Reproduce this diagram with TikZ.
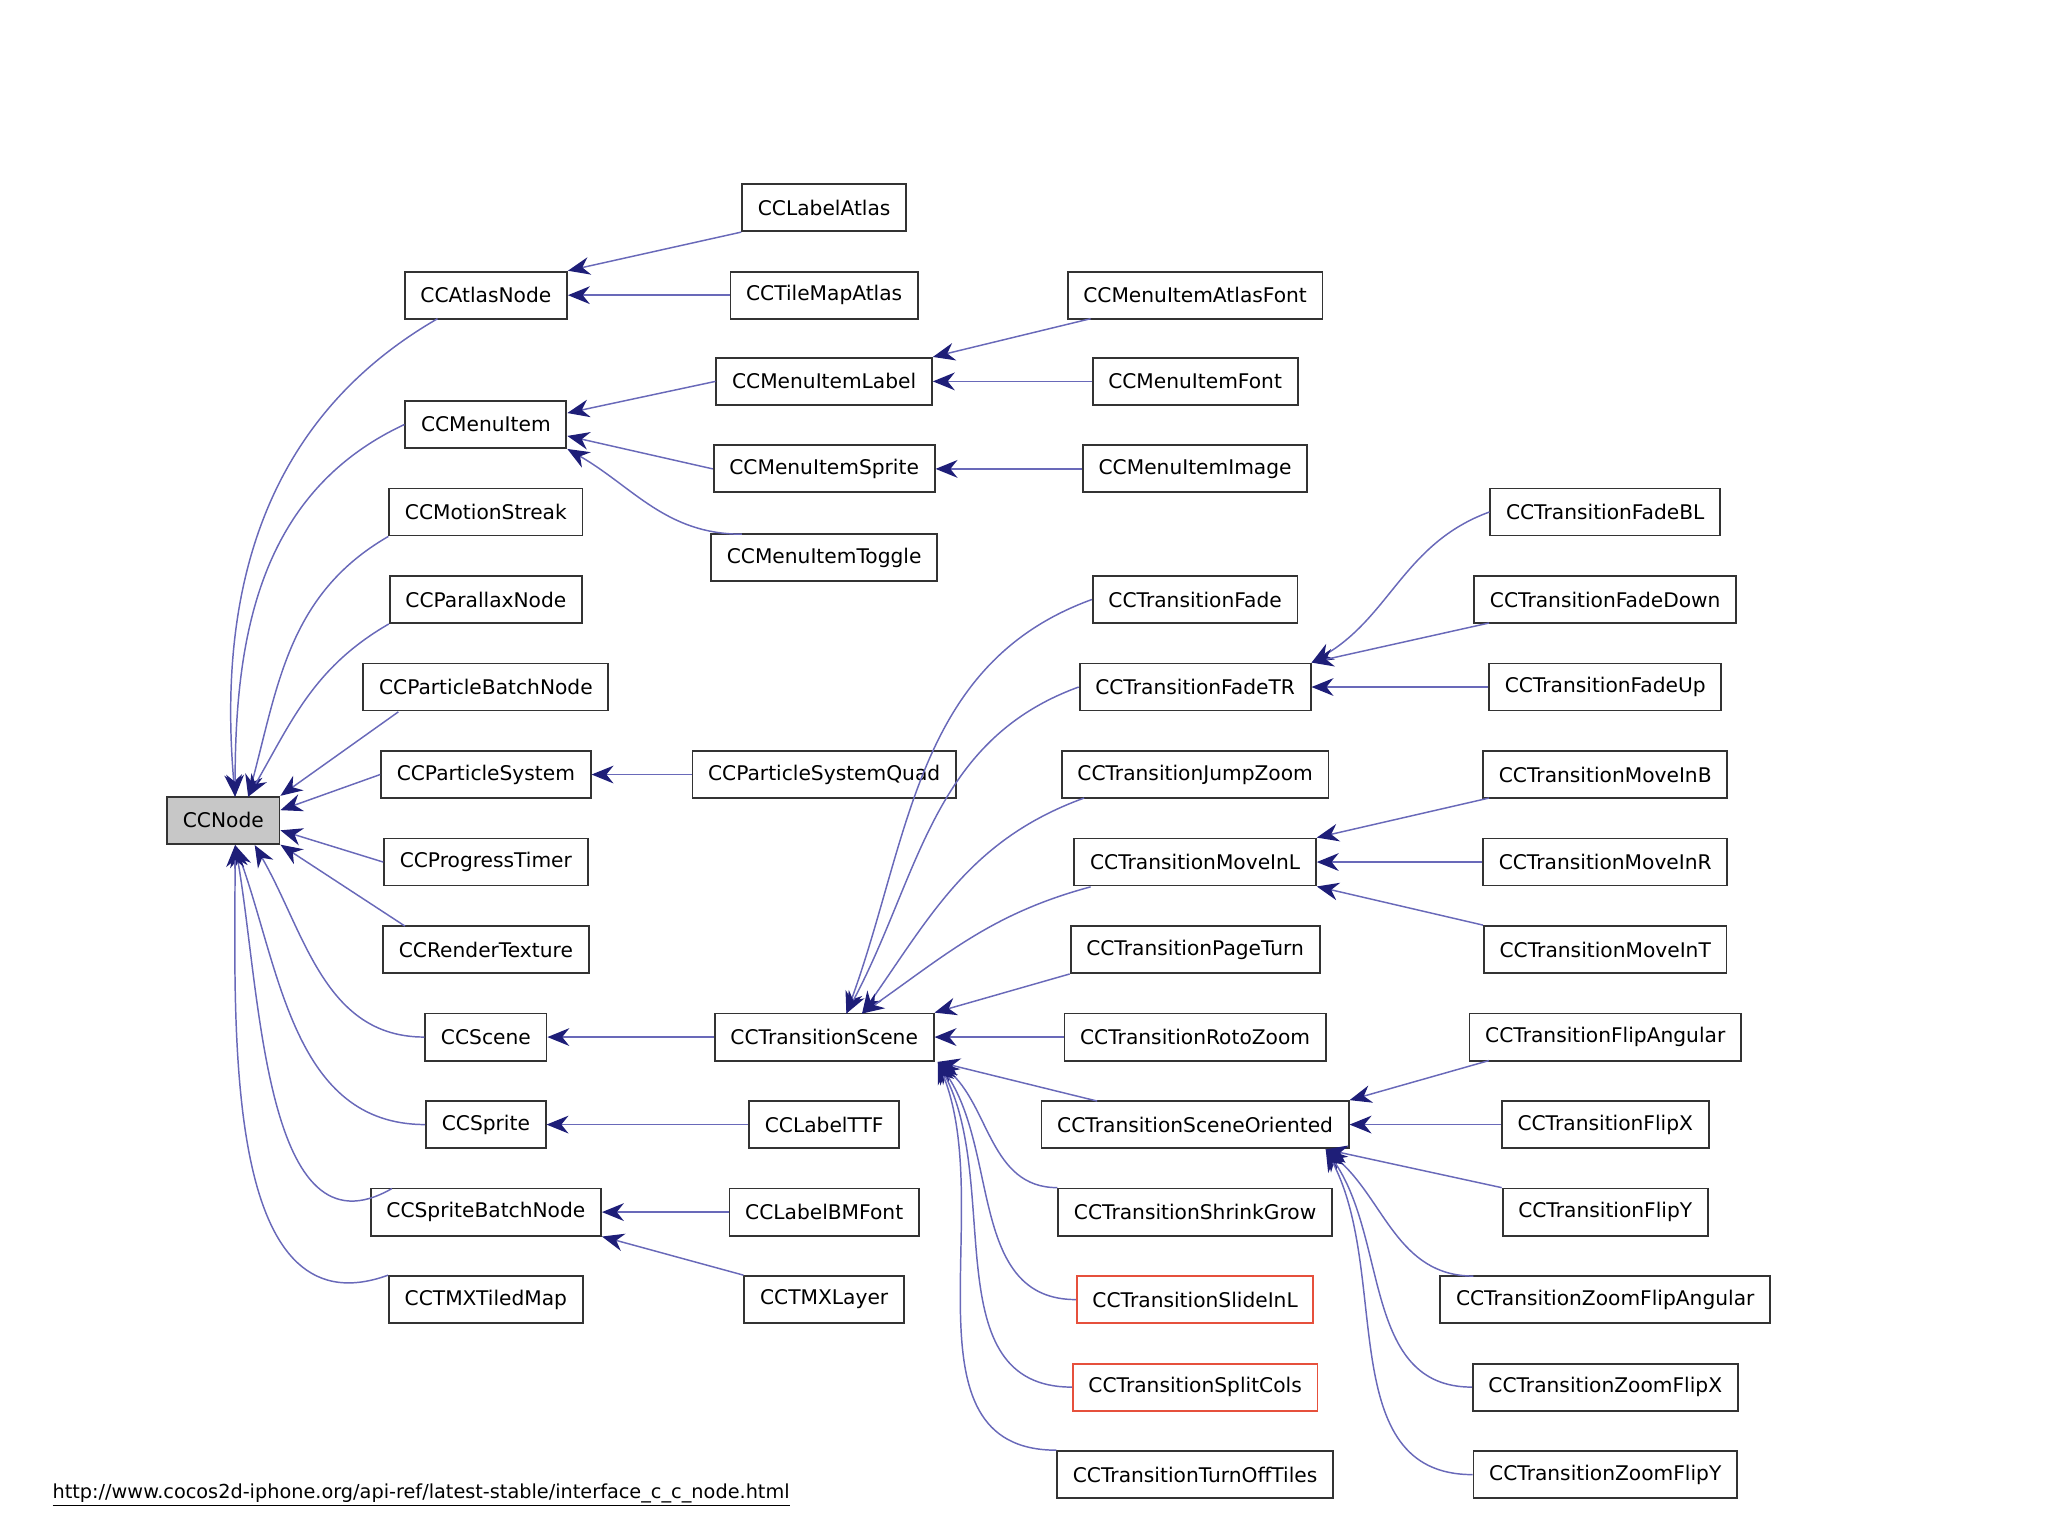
\documentclass[tikz,border=0pt]{standalone}
\usepackage{fontspec}
\setmainfont{DejaVu Sans}
\usetikzlibrary{arrows.meta}
\definecolor{ln}{RGB}{105,105,185}
\definecolor{hd}{RGB}{30,30,120}
\definecolor{rd}{RGB}{230,80,60}
\begin{document}
\begin{tikzpicture}[x=0.025cm,y=-0.025cm,
 b/.style={draw=black!80,line width=1pt,fill=white,minimum height=0.9cm,inner xsep=0.3cm,font=\fontsize{11}{13}\selectfont},
 r/.style={b,draw=rd},
 e/.style={draw=ln,line width=0.8pt,-{Stealth[length=0.42cm,width=0.34cm,color=hd,fill=hd]}}]
\useasboundingbox (0,0) rectangle (1568,1176);
\node[b,fill=black!22] (n) at (171,628) {CCNode};
\foreach \id/\y/\t in {atlas/226/CCAtlasNode,mi/325/CCMenuItem,ms/392/CCMotionStreak,pn/459/CCParallaxNode,pb/526/CCParticleBatchNode,ps/593/CCParticleSystem,pt/660/CCProgressTimer,rt/727/CCRenderTexture,sc/794/CCScene,sp/861/CCSprite,sb/928/CCSpriteBatchNode,tm/995/CCTMXTiledMap}
 \node[b] (\id) at (372,\y) {\t};
\foreach \id/\y/\t in {la/159/CCLabelAtlas,tma/226/CCTileMapAtlas,mil/292/CCMenuItemLabel,mis/359/CCMenuItemSprite,mit/427/CCMenuItemToggle,psq/593/CCParticleSystemQuad,ts/794/CCTransitionScene,ttf/861/CCLabelTTF,bmf/928/CCLabelBMFont,tml/995/CCTMXLayer}
 \node[b] (\id) at (631,\y) {\t};
\foreach \id/\y/\t in {maf/226/CCMenuItemAtlasFont,mif/292/CCMenuItemFont,mii/359/CCMenuItemImage,tf/459/CCTransitionFade,ftr/526/CCTransitionFadeTR,jz/593/CCTransitionJumpZoom,mvl/660/CCTransitionMoveInL,pg/727/CCTransitionPageTurn,rz/794/CCTransitionRotoZoom,so/861/CCTransitionSceneOriented,sg/928/CCTransitionShrinkGrow,tot/1129/CCTransitionTurnOffTiles}
 \node[b] (\id) at (915,\y) {\t};
\node[r] (sl) at (915,995) {CCTransitionSlideInL};
\node[r] (sc2) at (915,1062) {CCTransitionSplitCols};
\foreach \id/\y/\t in {fbl/392/CCTransitionFadeBL,fd/459/CCTransitionFadeDown,fu/526/CCTransitionFadeUp,mb/593/CCTransitionMoveInB,mr/660/CCTransitionMoveInR,mt/727/CCTransitionMoveInT,fa/794/CCTransitionFlipAngular,fx/861/CCTransitionFlipX,fy/928/CCTransitionFlipY,zfa/995/CCTransitionZoomFlipAngular,zfx/1062/CCTransitionZoomFlipX,zfy/1129/CCTransitionZoomFlipY}
 \node[b] (\id) at (1229,\y) {\t};
% landing / start points
\coordinate (nt) at (180,610);
\coordinate (nt2) at (190,610);
\coordinate (nb) at (180,647);
\coordinate (nb2) at (195,647);
\coordinate (a1) at (335,244);
\coordinate (a2) at (305,545);
\coordinate (a3) at (310,709);
\coordinate (a4) at (300,910);
\coordinate (a5) at (568,409);
\coordinate (a6) at (835,244);
\coordinate (a7) at (830,611);
\coordinate (a8) at (835,679);
\coordinate (a9) at (840,843);
\coordinate (tsn) at (648,776);
\coordinate (tsn2) at (660,776);
\coordinate (tsb) at (718,813);
\coordinate (b1) at (1140,477);
\coordinate (b2) at (1140,611);
\coordinate (b3) at (1140,812);
\coordinate (b4) at (1128,977);
\coordinate (sob) at (1015,880);
% CCNode children
\draw[e] (a1) to[out=-150,in=95] (nt);
\draw[e] (mi.west) to[out=-155,in=90] (nt);
\draw[e] (ms.south west) to[out=-150,in=75] (nt2);
\draw[e] (pn.south west) to[out=-150,in=60] (nt2);
\draw[e] (a2) -- (n.north east);
\draw[e] (ps.west) -- (n.10);
\draw[e] (pt.west) -- (n.-10);
\draw[e] (a3) -- (n.south east);
\draw[e] (sc.west) to[out=180,in=-60] (nb2);
\draw[e] (sp.west) to[out=180,in=-70] (nb);
\draw[e] (a4) to[out=-150,in=-80] (nb);
\draw[e] (tm.north west) to[out=-160,in=-90] (nb);
% column 2 -> 1
\draw[e] (la.south west) -- (atlas.north east);
\draw[e] (tma.west) -- (atlas.east);
\draw[e] (mil.west) -- (mi.8);
\draw[e] (mis.west) -- (mi.-8);
\draw[e] (a5) to[out=180,in=-30] (mi.south east);
\draw[e] (psq.west) -- (ps.east);
\draw[e] (ts.west) -- (sc.east);
\draw[e] (ttf.west) -- (sp.east);
\draw[e] (bmf.west) -- (sb.east);
\draw[e] (tml.north west) -- (sb.south east);
% column 3 -> 2
\draw[e] (a6) -- (mil.north east);
\draw[e] (mif.west) -- (mil.east);
\draw[e] (mii.west) -- (mis.east);
\draw[e] (tf.west) to[out=200,in=70] (tsn);
\draw[e] (ftr.west) to[out=200,in=62] (tsn);
\draw[e] (a7) to[out=200,in=55] (tsn2);
\draw[e] (a8) to[out=195,in=35] (tsn2);
\draw[e] (pg.south west) -- (ts.north east);
\draw[e] (rz.west) -- (ts.east);
\draw[e] (a9) -- (tsb);
\draw[e] (sg.north west) to[out=180,in=-40] (tsb);
\draw[e] (sl.west) to[out=180,in=-55] (tsb);
\draw[e] (sc2.west) to[out=180,in=-62] (tsb);
\draw[e] (tot.north west) to[out=180,in=-68] (tsb);
% column 4 -> 3
\draw[e] (fbl.west) to[out=200,in=30] (ftr.north east);
\draw[e] (b1) -- (ftr.north east);
\draw[e] (fu.west) -- (ftr.east);
\draw[e] (b2) -- (mvl.north east);
\draw[e] (mr.west) -- (mvl.east);
\draw[e] (mt.north west) -- (mvl.south east);
\draw[e] (b3) -- (so.north east);
\draw[e] (fx.west) -- (so.east);
\draw[e] (fy.north west) -- (sob);
\draw[e] (b4) to[out=180,in=-40] (sob);
\draw[e] (zfx.west) to[out=180,in=-55] (sob);
\draw[e] (zfy.west) to[out=180,in=-62] (sob);
\node[anchor=west,font=\fontsize{10.5}{12}\selectfont,inner sep=0] (url) at (40,1145) {\underline{http://www.cocos2d-iphone.org/api-ref/latest-stable/interface\_c\_c\_node.html}};
\end{tikzpicture}
\end{document}
